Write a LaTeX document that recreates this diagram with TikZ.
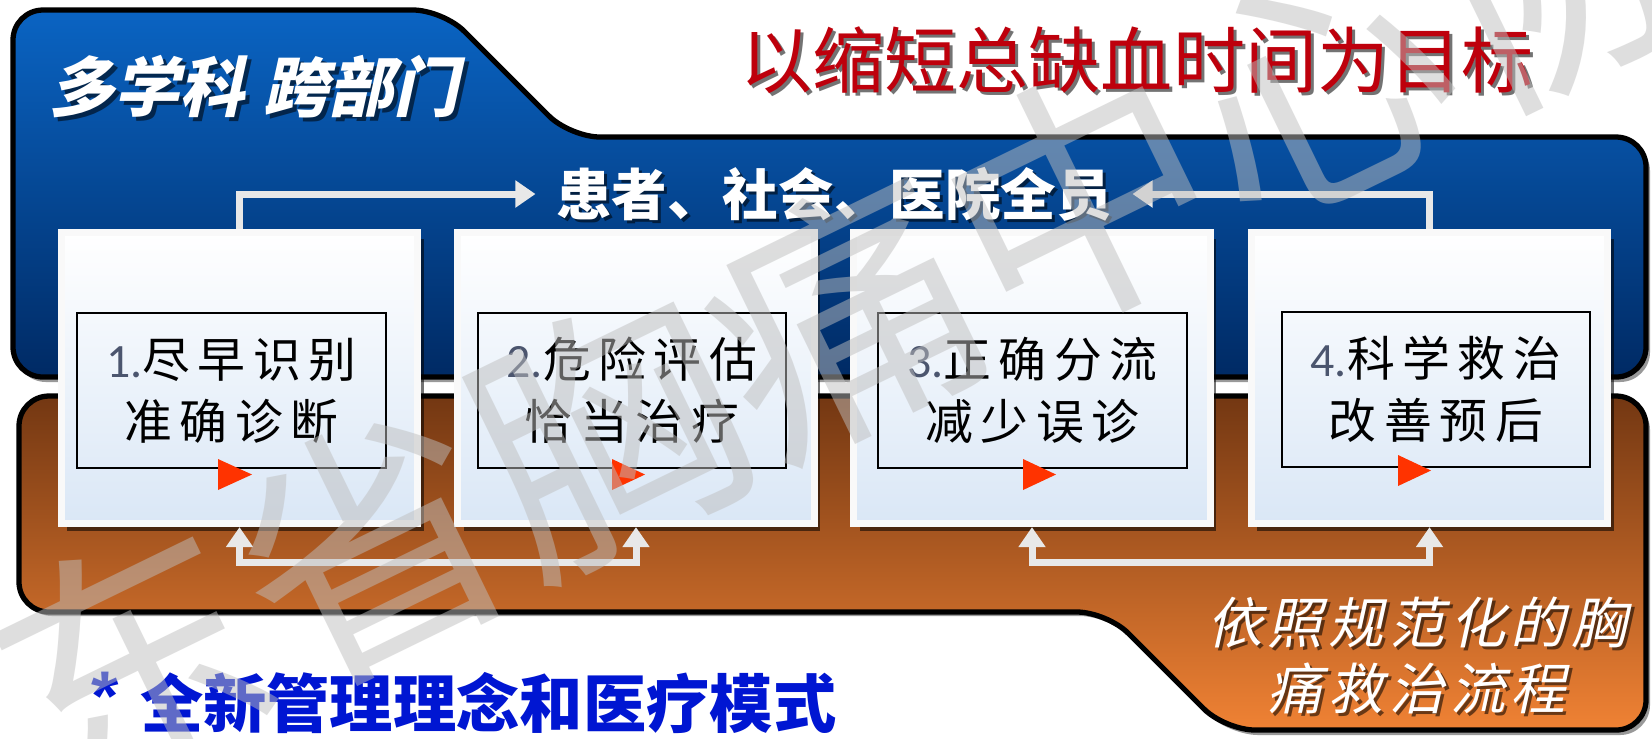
\documentclass[tikz,border=0pt]{standalone}
\usepackage{fontspec}
\usepackage{graphicx}
\usetikzlibrary{arrows.meta,shadows}
\newfontfamily\cjk{Noto Sans CJK SC}
\newfontfamily\cjksl{Noto Sans CJK SC}[FakeSlant=0.22]
\newfontfamily\cjkslsp{Noto Sans CJK SC}[FakeSlant=0.22,LetterSpace=10]
\newfontfamily\cjkbox{Noto Sans CJK SC}[LetterSpace=16]
\newfontfamily\numfont{Carlito}
\newfontfamily\latinfont{Liberation Sans}
\definecolor{blueT}{RGB}{10,100,195}
\definecolor{blueB}{RGB}{0,42,100}
\definecolor{oraT}{RGB}{115,55,18}
\definecolor{oraB}{RGB}{240,130,52}
\definecolor{titlered}{RGB}{190,0,12}
\definecolor{panelB}{RGB}{218,231,246}
\definecolor{numgray}{RGB}{75,85,110}
\definecolor{arrowgray}{RGB}{232,232,232}
\definecolor{tri}{RGB}{255,51,0}
\definecolor{navytext}{RGB}{0,22,210}
\definecolor{wm}{RGB}{190,190,190}
\newcommand{\nm}[1]{{\numfont\color{numgray}#1}}
\tikzset{
  panel/.style={draw=white!95!gray, line width=0.07cm, top color=white, bottom color=panelB,
    minimum width=3.56cm, minimum height=2.91cm, inner sep=0pt,
    drop shadow={shadow xshift=0.06cm, shadow yshift=-0.07cm, opacity=0.55, fill=black}},
  inbox/.style={draw=black, line width=0.7pt, inner sep=0pt, align=center,
    font=\cjkbox\fontsize{13.6}{17.6}\selectfont},
  arr/.style={draw=arrowgray, line width=0.07cm, -{Triangle[width=0.26cm,length=0.2cm]}},
  arrboth/.style={draw=arrowgray, line width=0.07cm,
    {Triangle[width=0.26cm,length=0.2cm]}-{Triangle[width=0.26cm,length=0.2cm]}},
  shadowtext/.style={text=black, text opacity=0.55},
  trianglefill/.style={fill=tri}
}
\begin{document}
\begin{tikzpicture}[x=0.01cm,y=-0.01cm]
\useasboundingbox (0,0) rectangle (1652,738);
\fill[white] (0,0) rectangle (1652,738);
% blue band
\fill[black!40, rounded corners=0.3cm] (16,14) -- (447,14) -- (574,141) -- (1650,141) -- (1650,382) -- (16,382) -- cycle;
\shadedraw[top color=blueT, bottom color=blueB, draw=black, line width=1.5pt, rounded corners=0.3cm]
  (13,10) -- (443,10) -- (570,137) -- (1646,137) -- (1646,377) -- (13,377) -- cycle;
% orange band
\fill[black!40, rounded corners=0.3cm] (22,400) -- (1650,400) -- (1650,735) -- (1228,735) -- (1110,616) -- (22,616) -- cycle;
\shadedraw[top color=oraT, bottom color=oraB, draw=black, line width=1.5pt, rounded corners=0.3cm]
  (19,396) -- (1646,396) -- (1646,730) -- (1225,730) -- (1107,612) -- (19,612) -- cycle;
% titles
\node[shadowtext, font=\cjk\fontsize{20.5}{20.5}\selectfont] (title-s) at (1140,63) {以缩短总缺血时间为目标};
\node[text=titlered, font=\cjk\fontsize{20.5}{20.5}\selectfont] (title) at (1137,60) {以缩短总缺血时间为目标};
\node[shadowtext, font=\cjksl\bfseries\fontsize{18.5}{18.5}\selectfont] (team-s) at (258,91) {多学科\hspace{0.3em}跨部门};
\node[text=white, font=\cjksl\bfseries\fontsize{18.5}{18.5}\selectfont] (team) at (254,87) {多学科\hspace{0.3em}跨部门};
\node[shadowtext, font=\cjk\bfseries\fontsize{15.8}{15.8}\selectfont, inner sep=0pt] (who-s) at (837,197) {患者、社会、医院全员};
\node[text=white, font=\cjk\bfseries\fontsize{15.8}{15.8}\selectfont, inner sep=0pt] (who) at (834,194) {患者、社会、医院全员};
% panels
\node[panel] (b1) at (239.5,378) {};
\node[panel] (b2) at (636,378) {};
\node[panel] (b3) at (1032,378) {};
\node[panel] (b4) at (1429.5,378) {};
% inner boxes
\node[inbox, minimum width=3.09cm, minimum height=1.55cm] (i1) at (231.5,390.5) {\nm{1.}尽早识别\\准确诊断};
\node[inbox, minimum width=3.08cm, minimum height=1.55cm] (i2) at (632,390.5) {\nm{2.}危险评估\\恰当治疗};
\node[inbox, minimum width=3.09cm, minimum height=1.55cm] (i3) at (1032.5,390.5) {\nm{3.}正确分流\\减少误诊};
\node[inbox, minimum width=3.08cm, minimum height=1.55cm] (i4) at (1436,389.5) {\nm{4.}科学救治\\改善预后};
% red play triangles
\fill[trianglefill] (218,459) -- (252,474.5) -- (218,490) -- cycle;
\fill[trianglefill] (612,459) -- (645,474.5) -- (612,490) -- cycle;
\fill[trianglefill] (1023,459) -- (1056,474.5) -- (1023,490) -- cycle;
\fill[trianglefill] (1398,455) -- (1431,470.5) -- (1398,486) -- cycle;
% connectors
\draw[arr] (b1.north) |- ([xshift=-0.2cm]who.west);
\draw[arr] (b4.north) |- ([xshift=0.2cm]who.east);
\draw[arrboth] (b1.south) -- ++(0,35) -| (b2.south);
\draw[arrboth] (b3.south) -- ++(0,35) -| (b4.south);
% orange text
\node[shadowtext, align=center, font=\cjkslsp\fontsize{15.7}{18.8}\selectfont] (flow-s) at (1420,658) {依照规范化的胸\\痛救治流程};
\node[text=white, align=center, font=\cjkslsp\fontsize{15.7}{18.8}\selectfont] (flow) at (1417,655) {依照规范化的胸\\痛救治流程};
% bottom blue text
\node[text=navytext, font=\cjk\bfseries\fontsize{18}{18}\selectfont] (concept) at (464,703) {{\latinfont\fontsize{20}{20}\selectfont\raisebox{2pt}{*}}\hspace{6pt}全新管理理念和医疗模式};
% watermark
\node[text=wm, text opacity=0.5, rotate=26, font=\cjk\fontsize{75}{75}\selectfont] (wmk) at (843,316) {广东省胸痛中心协会};
\end{tikzpicture}
\end{document}
